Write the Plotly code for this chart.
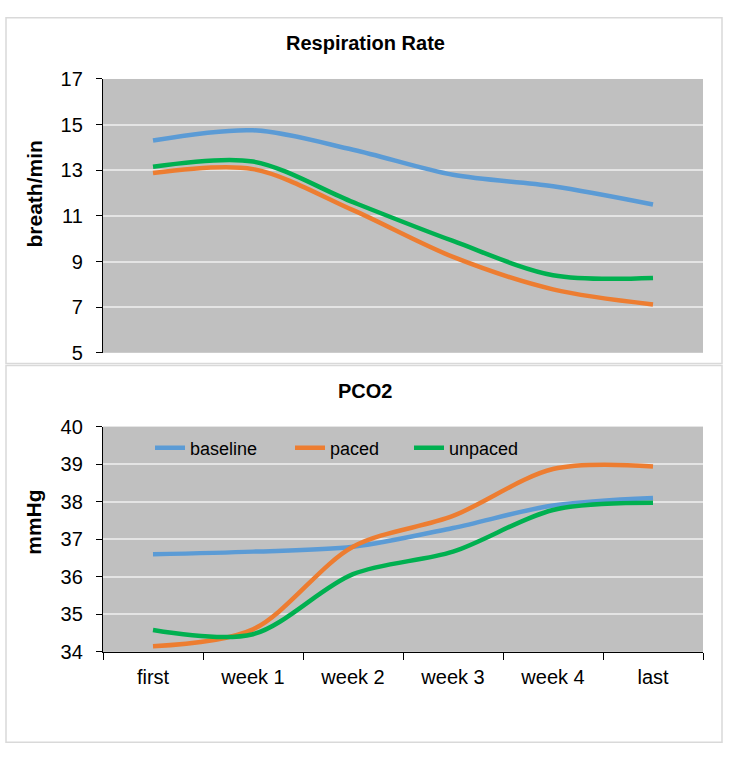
import plotly.graph_objects as go

categories = ["first", "week 1", "week 2", "week 3", "week 4", "last"]

resp_baseline = [14.3, 14.75, 13.9, 12.8, 12.3, 11.5]
resp_paced = [12.88, 13.05, 11.25, 9.2, 7.78, 7.12]
resp_unpaced = [13.15, 13.38, 11.6, 9.9, 8.4, 8.28]

pco2_baseline = [36.6, 36.67, 36.8, 37.3, 37.9, 38.1]
pco2_paced = [34.15, 34.6, 36.8, 37.62, 38.87, 38.94]
pco2_unpaced = [34.58, 34.47, 36.07, 36.67, 37.78, 37.97]

series_names = ["baseline", "paced", "unpaced"]
colors = ["#5B9BD5", "#ED7D31", "#00B050"]
legend_ids = ["legend", "legend2", "legend3"]
legend_left_px = [150, 290, 409]

W, H = 729, 759
FONT = "Liberation Sans, Arial, sans-serif"

fig = go.Figure()

for name, vals, col in zip(series_names, [resp_baseline, resp_paced, resp_unpaced], colors):
    fig.add_trace(go.Scatter(x=categories, y=vals, mode="lines", name=name,
                             line=dict(color=col, width=4.5, shape="spline", smoothing=0.9),
                             xaxis="x", yaxis="y", showlegend=False))
for name, vals, col, lg in zip(series_names, [pco2_baseline, pco2_paced, pco2_unpaced],
                               colors, legend_ids):
    fig.add_trace(go.Scatter(x=categories, y=vals, mode="lines", name=name,
                             line=dict(color=col, width=4.5, shape="spline", smoothing=0.9),
                             xaxis="x2", yaxis="y2", showlegend=True, legend=lg))

def px_x(p):
    return p / W

def px_y(p):
    return 1 - p / H

common_y = dict(showline=True, linecolor="black", linewidth=1.3, ticks="outside",
                ticklen=6, tickcolor="black", showgrid=True, gridcolor="#E4E4E4",
                gridwidth=1.5, zeroline=False, ticklabelstandoff=9,
                tickfont=dict(family=FONT, size=20, color="black"))

legend_common = dict(orientation="h", xanchor="left", yanchor="middle",
                     bgcolor="rgba(0,0,0,0)", borderwidth=0,
                     font=dict(family=FONT, size=18, color="black"),
                     itemwidth=30)

layout_legends = {}
for lg, left in zip(legend_ids, legend_left_px):
    layout_legends[lg] = dict(x=px_x(left), y=px_y(450), **legend_common)

fig.update_layout(
    width=W, height=H,
    margin=dict(l=0, r=0, t=0, b=0),
    paper_bgcolor="white",
    plot_bgcolor="#C0C0C0",
    font=dict(family=FONT, color="black"),
    xaxis=dict(domain=[px_x(103), px_x(703)], anchor="y", type="category",
               showticklabels=False, ticks="", showgrid=False, showline=False,
               range=[-0.5, 5.5]),
    yaxis=dict(domain=[px_y(352), px_y(70)], anchor="x", range=[5, 17], dtick=2,
               tick0=5, **common_y),
    xaxis2=dict(domain=[px_x(103), px_x(703)], anchor="y2", type="category",
                showline=True, linecolor="black", linewidth=1.3,
                ticks="outside", tickson="boundaries", ticklen=7, tickcolor="black",
                showgrid=False, range=[-0.5, 5.5], ticklabelstandoff=7,
                tickfont=dict(family=FONT, size=20, color="black")),
    yaxis2=dict(domain=[px_y(660), px_y(428)], anchor="x2", range=[34, 40], dtick=1,
                tick0=34, **common_y),
    shapes=[
        dict(type="rect", xref="paper", yref="paper", x0=px_x(6), x1=px_x(722),
             y0=px_y(363), y1=px_y(7), line=dict(color="#D9D9D9", width=1.5)),
        dict(type="rect", xref="paper", yref="paper", x0=px_x(6), x1=px_x(722),
             y0=px_y(753), y1=px_y(365), line=dict(color="#D9D9D9", width=1.5)),
    ],
    annotations=[
        dict(text="<b>Respiration Rate</b>", x=px_x(365), y=px_y(33), xref="paper",
             yref="paper", showarrow=False, yanchor="middle",
             font=dict(family=FONT, size=20)),
        dict(text="<b>PCO2</b>", x=px_x(365), y=px_y(391), xref="paper",
             yref="paper", showarrow=False, yanchor="middle",
             font=dict(family=FONT, size=20)),
        dict(text="<b>breath/min</b>", x=px_x(35), y=px_y(189), xref="paper",
             yref="paper", showarrow=False, textangle=-90, xanchor="center",
             yanchor="middle", font=dict(family=FONT, size=21)),
        dict(text="<b>mmHg</b>", x=px_x(34), y=px_y(527), xref="paper",
             yref="paper", showarrow=False, textangle=-90, xanchor="center",
             yanchor="middle", font=dict(family=FONT, size=21)),
    ],
    **layout_legends,
)

fig.write_html("out.html", config={"displayModeBar": False},
               post_script="document.body.style.margin='0';document.body.style.overflow='hidden';")
